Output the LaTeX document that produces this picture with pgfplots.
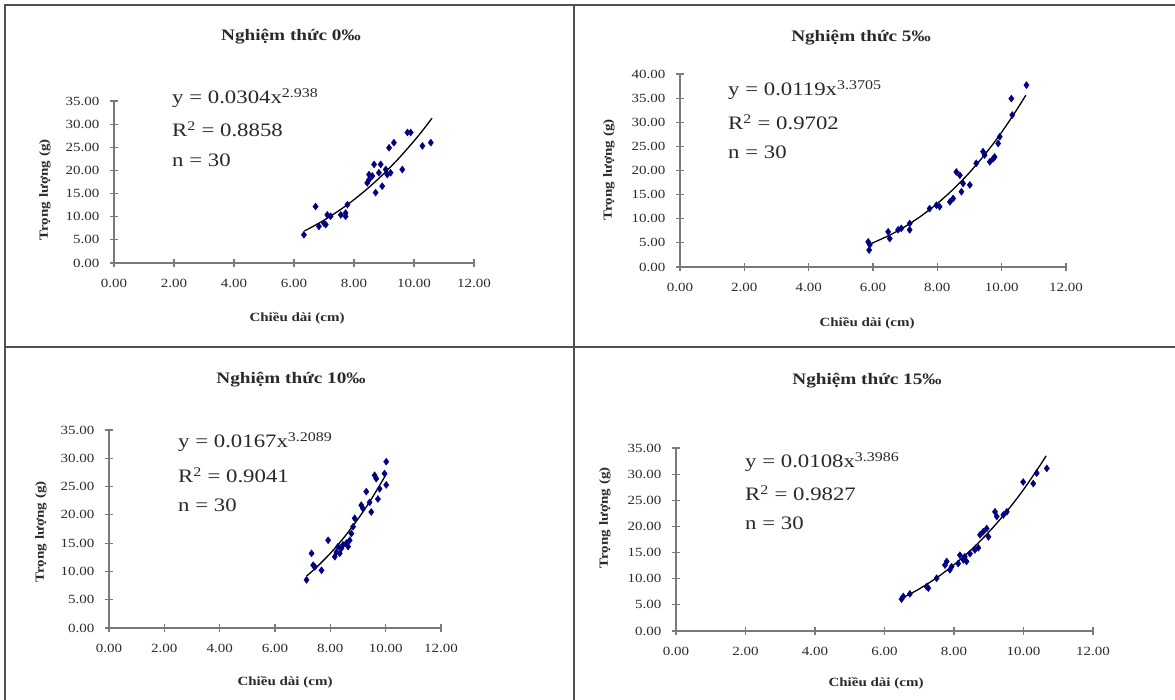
\documentclass[border=0pt]{standalone}
\usepackage{fontspec}
\setmainfont{Liberation Serif}[FakeStretch=1.2]
\usepackage{pgfplots}
\pgfplotsset{compat=1.18}
\definecolor{navy}{HTML}{000080}
\definecolor{axgray}{HTML}{7A7A7A}
\definecolor{txt}{HTML}{2A2A2A}
\definecolor{framec}{HTML}{505050}

\pgfplotsset{panel/.style={
  scale only axis, anchor=south west,
  axis x line=bottom, axis y line=left,
  axis line style={-, draw=axgray, line width=1.8pt},
  xmin=0, xmax=12, ymin=0,
  xtick={0,2,4,6,8,10,12},
  tick align=center, major tick length=8pt,
  every tick/.style={draw=axgray, line width=1.2pt},
  tick label style={font=\fontsize{12.5}{12.5}\selectfont, text=txt},
  xticklabel style={yshift=-9pt},
  yticklabel style={xshift=-7pt},
  /pgf/number format/fixed, /pgf/number format/fixed zerofill,
  /pgf/number format/precision=2, /pgf/number format/assume math mode=true,
  clip=false,
},
pts/.style={only marks, mark=diamond*, mark size=3.5pt, color=navy},
trend/.style={black, line width=1.3pt, smooth, no marks},
}
\newcommand{\ttl}[1]{\fontsize{16}{16}\selectfont\bfseries #1}
\newcommand{\eqf}{\fontsize{19}{19}\selectfont}
\newcommand{\labf}{\fontsize{12.5}{12.5}\selectfont\bfseries}

\begin{document}
\begin{tikzpicture}
\path[use as bounding box] (0pt,0pt) rectangle (1175pt,700pt);
\fill[white] (0pt,0pt) rectangle (1175pt,700pt);

% ---------------- Panel 1 : 0 permille
\begin{axis}[panel, at={(114pt,437pt)}, width=360pt, height=162pt,
  ymax=35, ytick={0,5,...,35}]
\addplot[pts] coordinates {
(6.33,6.1) (6.72,12.2) (6.83,7.9) (7.00,8.6) (7.11,10.4) (7.06,8.3) (7.22,10.1)
(7.56,10.4) (7.72,10.8) (7.72,10.1) (7.78,12.6) (8.50,18.0) (8.44,17.3) (8.61,18.8)
(8.67,21.3) (8.72,15.2) (8.83,19.5) (8.94,16.6) (8.89,21.3) (9.06,20.2) (9.11,19.1)
(9.22,19.5) (9.17,24.9) (9.33,26.0) (9.61,20.2) (9.78,28.2) (9.89,28.2) (10.28,25.3)
(10.56,26.0) (8.50,19.1)};
\addplot[trend] coordinates {
(6.35,6.95) (6.5,7.43) (7,9.24) (7.5,11.32) (8,13.68) (8.5,16.35) (9,19.34) (9.5,22.67)
(10,26.35) (10.3,28.74) (10.6,31.28)};
\end{axis}

% ---------------- Panel 2 : 5 permille
\begin{axis}[panel, at={(680pt,433pt)}, width=386pt, height=193pt,
  ymax=40, ytick={0,5,...,40}]
\addplot[pts] coordinates {
(5.85,5.2) (5.88,3.5) (5.90,4.6) (6.47,7.3) (6.52,5.9) (6.78,7.7) (6.88,8.0)
(7.14,7.7) (7.14,9.0) (7.97,12.8) (8.07,12.5) (8.39,13.5) (8.49,14.2) (8.59,19.7)
(8.70,19.0) (8.75,15.6) (8.80,17.3) (9.01,17.0) (9.42,23.9) (9.47,23.2) (9.63,21.8)
(9.73,22.4) (9.78,22.8) (9.89,25.6) (9.94,27.0) (10.30,34.9) (10.33,31.5) (10.77,37.7)
(9.21,21.5) (7.76,12.1)};
\addplot[trend] coordinates {
(5.85,4.58) (6.5,6.54) (7,8.39) (7.5,10.59) (8,13.16) (8.5,16.15) (9,19.58) (9.5,23.50)
(10,27.93) (10.5,32.92) (10.75,35.6)};
\end{axis}

% ---------------- Panel 3 : 10 permille
\begin{axis}[panel, at={(109pt,72pt)}, width=332pt, height=198pt,
  ymax=35, ytick={0,5,...,35}]
\addplot[pts] coordinates {
(7.14,8.5) (7.32,13.2) (7.38,11.1) (7.44,10.8) (7.68,10.2) (7.92,15.5) (8.16,12.6)
(8.22,13.4) (8.28,14.4) (8.34,13.2) (8.40,14.1) (8.46,14.7) (8.58,15.0) (8.64,14.4)
(8.70,15.5) (8.76,16.7) (8.82,17.9) (8.88,19.4) (9.12,21.7) (9.18,21.1) (9.30,24.1)
(9.42,22.2) (9.48,20.5) (9.60,27.0) (9.66,26.4) (9.72,22.8) (9.78,24.6) (9.96,27.3)
(10.02,29.4) (10.02,25.3)};
\addplot[trend] coordinates {
(7.14,9.17) (7.5,10.73) (8,13.20) (8.5,16.04) (9,19.27) (9.5,22.92) (10.02,27.19)};
\end{axis}

% ---------------- Panel 4 : 15 permille
\begin{axis}[panel, at={(676pt,69pt)}, width=417pt, height=183pt,
  ymax=35, ytick={0,5,...,35}]
\addplot[pts] coordinates {
(6.49,6.1) (6.54,6.6) (6.73,7.1) (7.21,8.5) (7.26,8.2) (7.50,10.1) (7.74,12.6)
(7.79,13.3) (7.88,11.7) (7.93,12.3) (8.12,12.9) (8.17,14.5) (8.27,13.6) (8.31,14.2)
(8.36,13.3) (8.46,14.8) (8.60,15.5) (8.70,15.9) (8.75,18.4) (8.84,19.0) (8.94,19.6)
(8.99,18.0) (9.18,22.8) (9.23,21.9) (9.42,22.2) (9.52,22.8) (9.99,28.5) (10.28,28.2)
(10.38,30.2) (10.67,31.1)};
\addplot[trend] coordinates {
(6.49,6.22) (7,8.05) (7.5,10.17) (8,12.67) (8.5,15.57) (9,18.90) (9.5,22.72)
(10,27.04) (10.5,31.92) (10.65,33.50)};
\end{axis}

% ---------------- Titles
\node[text=txt] at (291pt,663pt) {\ttl{Nghiệm thức 0‰}};
\node[text=txt] at (861pt,662pt) {\ttl{Nghiệm thức 5‰}};
\node[text=txt] at (291pt,320pt) {\ttl{Nghiệm thức 10‰}};
\node[text=txt] at (867pt,319pt) {\ttl{Nghiệm thức 15‰}};

% ---------------- Equations
\begin{scope}[every node/.style={anchor=west, text=txt, inner sep=0pt}]
\node at (172pt,602pt) {\eqf y = 0.0304x\textsuperscript{2.938}};
\node at (172pt,571pt) {\eqf R\textsuperscript{2} = 0.8858};
\node at (172pt,540pt) {\eqf n = 30};
\node at (728pt,610pt) {\eqf y = 0.0119x\textsuperscript{3.3705}};
\node at (728pt,578pt) {\eqf R\textsuperscript{2} = 0.9702};
\node at (728pt,548pt) {\eqf n = 30};
\node at (178pt,258pt) {\eqf y = 0.0167x\textsuperscript{3.2089}};
\node at (178pt,225pt) {\eqf R\textsuperscript{2} = 0.9041};
\node at (178pt,195pt) {\eqf n = 30};
\node at (745pt,238pt) {\eqf y = 0.0108x\textsuperscript{3.3986}};
\node at (745pt,207pt) {\eqf R\textsuperscript{2} = 0.9827};
\node at (745pt,177pt) {\eqf n = 30};
\end{scope}

% ---------------- Axis labels
\node[text=txt] at (297pt,382pt) {\labf Chiều dài (cm)};
\node[text=txt] at (867pt,377pt) {\labf Chiều dài (cm)};
\node[text=txt] at (285pt,18pt) {\labf Chiều dài (cm)};
\node[text=txt] at (876pt,17pt) {\labf Chiều dài (cm)};
\node[text=txt, rotate=90] at (45pt,510pt) {\labf Trọng lượng (g)};
\node[text=txt, rotate=90] at (609pt,530pt) {\labf Trọng lượng (g)};
\node[text=txt, rotate=90] at (41pt,168pt) {\labf Trọng lượng (g)};
\node[text=txt, rotate=90] at (605pt,182pt) {\labf Trọng lượng (g)};

% ---------------- Frame lines
\draw[framec, line width=2.5pt] (4pt,695pt) -- (1175pt,695pt);
\draw[framec, line width=2.5pt] (5pt,0pt) -- (5pt,695pt);
\draw[framec, line width=2.5pt] (574pt,0pt) -- (574pt,695pt);
\draw[framec, line width=2.5pt] (4pt,353pt) -- (1175pt,353pt);
\end{tikzpicture}
\end{document}
